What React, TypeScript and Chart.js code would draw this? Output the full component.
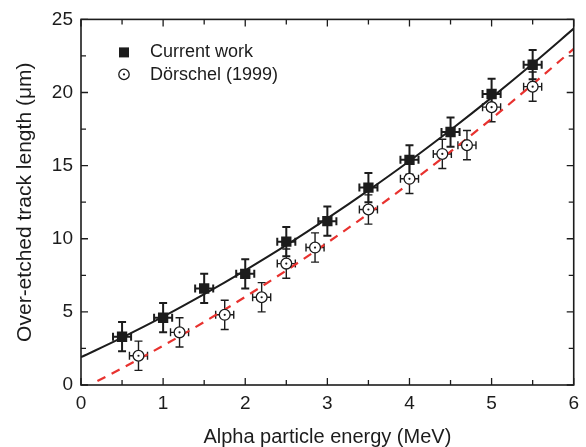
import React, { useEffect, useRef } from "react";
import { Chart, registerables } from "chart.js";
Chart.register(...registerables);

// ---- data ----
const currentX = [0.5, 1.0, 1.5, 2.0, 2.5, 3.0, 3.5, 4.0, 4.5, 5.0, 5.5];
const currentY = [3.3, 4.6, 6.6, 7.6, 9.8, 11.2, 13.5, 15.4, 17.3, 19.9, 21.9];
const currentYErr = [1.0, 1.0, 1.0, 1.0, 1.0, 1.0, 1.0, 1.0, 1.0, 1.05, 1.0];
const currentXErr = [0.11, 0.11, 0.11, 0.11, 0.11, 0.11, 0.11, 0.11, 0.11, 0.11, 0.11];

const dorschelX = [0.7, 1.2, 1.75, 2.2, 2.5, 2.85, 3.5, 4.0, 4.4, 4.7, 5.0, 5.5];
const dorschelY = [2.0, 3.6, 4.8, 6.0, 8.3, 9.4, 12.0, 14.1, 15.8, 16.4, 19.0, 20.4];
const dorschelYErr = [1.0, 1.0, 1.0, 1.0, 1.0, 1.0, 1.0, 1.0, 1.0, 1.0, 1.0, 1.0];
const dorschelXErr = [0.11, 0.11, 0.11, 0.11, 0.11, 0.11, 0.11, 0.11, 0.11, 0.11, 0.11, 0.11];

const fitX = [0, 0.5, 1, 1.5, 2, 2.5, 3, 3.5, 4, 4.5, 5, 5.5, 6];
const fitY = [1.9, 3.24, 4.67, 6.21, 7.84, 9.56, 11.39, 13.31, 15.32, 17.44, 19.65, 21.96, 24.37];

const dashX = [0.2, 0.5, 1, 1.5, 2, 2.5, 3, 3.5, 4, 4.5, 5, 5.5, 6];
const dashY = [0.27, 1.15, 2.69, 4.31, 6.03, 7.83, 9.73, 11.72, 13.79, 15.96, 18.21, 20.56, 22.99];

const xMajorTicks = [0, 1, 2, 3, 4, 5, 6];
const xMinorTicks = [0.5, 1.5, 2.5, 3.5, 4.5, 5.5];
const yMajorTicks = [0, 5, 10, 15, 20, 25];
const yMinorTicks = [2.5, 7.5, 12.5, 17.5, 22.5];

const legendLabels = ["Current work", "Dörschel (1999)"];
const xTitle = "Alpha particle energy (MeV)";
const yTitle = "Over-etched track length (μm)";

const FONT = "'Liberation Sans', Arial, Helvetica, sans-serif";
const INK = "#1c1c1c";
const RED = "#e8322f";

const decorPlugin = {
  id: "decor",
  beforeDatasetsDraw(chart: any) {
    const ctx = chart.ctx;
    const xs = chart.scales.x;
    const ys = chart.scales.y;
    const drawErr = (
      px: number[], py: number[], ex: number[], ey: number[], lw: number
    ) => {
      ctx.save();
      ctx.strokeStyle = INK;
      ctx.lineWidth = lw;
      const cap = 4;
      for (let i = 0; i < px.length; i++) {
        const cx = xs.getPixelForValue(px[i]);
        const cy = ys.getPixelForValue(py[i]);
        const y1 = ys.getPixelForValue(py[i] + ey[i]);
        const y2 = ys.getPixelForValue(py[i] - ey[i]);
        const x1 = xs.getPixelForValue(px[i] - ex[i]);
        const x2 = xs.getPixelForValue(px[i] + ex[i]);
        ctx.beginPath();
        ctx.moveTo(cx, y1); ctx.lineTo(cx, y2);
        ctx.moveTo(cx - cap, y1); ctx.lineTo(cx + cap, y1);
        ctx.moveTo(cx - cap, y2); ctx.lineTo(cx + cap, y2);
        ctx.moveTo(x1, cy); ctx.lineTo(x2, cy);
        ctx.moveTo(x1, cy - cap); ctx.lineTo(x1, cy + cap);
        ctx.moveTo(x2, cy - cap); ctx.lineTo(x2, cy + cap);
        ctx.stroke();
      }
      ctx.restore();
    };
    drawErr(dorschelX, dorschelY, dorschelXErr, dorschelYErr, 1.4);
    drawErr(currentX, currentY, currentXErr, currentYErr, 2);
  },
  afterDatasetsDraw(chart: any) {
    const ctx = chart.ctx;
    const xs = chart.scales.x;
    const ys = chart.scales.y;
    const a = chart.chartArea;
    // centre dots of open circles
    ctx.save();
    ctx.fillStyle = INK;
    for (let i = 0; i < dorschelX.length; i++) {
      ctx.beginPath();
      ctx.arc(xs.getPixelForValue(dorschelX[i]), ys.getPixelForValue(dorschelY[i]), 1.1, 0, Math.PI * 2);
      ctx.fill();
    }
    ctx.restore();

    // frame
    ctx.save();
    ctx.strokeStyle = INK;
    ctx.lineWidth = 1.6;
    ctx.strokeRect(a.left, a.top, a.right - a.left, a.bottom - a.top);
    // inward ticks
    ctx.lineWidth = 1.3;
    ctx.beginPath();
    const tx = (vals: number[], len: number) => {
      vals.forEach((v) => {
        const p = xs.getPixelForValue(v);
        ctx.moveTo(p, a.bottom); ctx.lineTo(p, a.bottom - len);
        ctx.moveTo(p, a.top); ctx.lineTo(p, a.top + len);
      });
    };
    const ty = (vals: number[], len: number) => {
      vals.forEach((v) => {
        const p = ys.getPixelForValue(v);
        ctx.moveTo(a.left, p); ctx.lineTo(a.left + len, p);
        ctx.moveTo(a.right, p); ctx.lineTo(a.right - len, p);
      });
    };
    tx(xMajorTicks, 7); tx(xMinorTicks, 5);
    ty(yMajorTicks, 7); ty(yMinorTicks, 5);
    ctx.stroke();
    ctx.restore();

    // legend
    ctx.save();
    const lx = a.left + 43;
    const ly1 = a.top + 33;
    const ly2 = a.top + 55;
    ctx.fillStyle = INK;
    ctx.fillRect(lx - 5, ly1 - 5, 10, 10);
    ctx.beginPath();
    ctx.arc(lx, ly2, 5.2, 0, Math.PI * 2);
    ctx.fillStyle = "#fff";
    ctx.fill();
    ctx.lineWidth = 1.3;
    ctx.strokeStyle = INK;
    ctx.stroke();
    ctx.beginPath();
    ctx.arc(lx, ly2, 1.1, 0, Math.PI * 2);
    ctx.fillStyle = INK;
    ctx.fill();
    ctx.font = `18px ${FONT}`;
    ctx.textBaseline = "middle";
    ctx.textAlign = "left";
    ctx.fillText(legendLabels[0], lx + 26, ly1);
    ctx.fillText(legendLabels[1], lx + 26, ly2 + 1);
    ctx.restore();
  },
};

export default function App() {
  const ref = useRef<HTMLCanvasElement | null>(null);
  useEffect(() => {
    if (!ref.current) return;
    const chart = new Chart(ref.current, {
      type: "scatter",
      data: {
        datasets: [
          {
            label: legendLabels[0],
            data: currentX.map((x, i) => ({ x, y: currentY[i] })),
            pointStyle: "rect",
            pointRadius: 7.3,
            backgroundColor: INK,
            borderColor: INK,
            borderWidth: 0,
            order: 0,
          },
          {
            label: legendLabels[1],
            data: dorschelX.map((x, i) => ({ x, y: dorschelY[i] })),
            pointStyle: "circle",
            pointRadius: 5.4,
            backgroundColor: "#ffffff",
            borderColor: INK,
            borderWidth: 1.3,
            order: 1,
          },
          {
            label: "fit current",
            data: fitX.map((x, i) => ({ x, y: fitY[i] })),
            showLine: true,
            pointRadius: 0,
            borderColor: INK,
            borderWidth: 2,
            cubicInterpolationMode: "monotone",
            order: 3,
          },
          {
            label: "fit Dörschel",
            data: dashX.map((x, i) => ({ x, y: dashY[i] })),
            showLine: true,
            pointRadius: 0,
            borderColor: RED,
            borderWidth: 2.2,
            borderDash: [9, 7],
            cubicInterpolationMode: "monotone",
            order: 2,
          },
        ],
      } as any,
      options: {
        animation: false,
        responsive: false,
        layout: { padding: { top: 16, right: 8, left: 0, bottom: 0 } },
        plugins: { legend: { display: false }, tooltip: { enabled: false } },
        scales: {
          x: {
            type: "linear",
            min: 0,
            max: 6,
            grid: { display: false, drawTicks: false },
            border: { display: false },
            ticks: {
              stepSize: 1,
              padding: 7,
              color: INK,
              font: { size: 19, family: FONT },
              maxRotation: 0,
            },
            title: {
              display: true,
              text: xTitle,
              color: INK,
              font: { size: 20, family: FONT },
              padding: { top: 0, bottom: -2 },
            },
            afterFit: (s: any) => { s.height = 62; },
          },
          y: {
            type: "linear",
            min: 0,
            max: 25,
            grid: { display: false, drawTicks: false },
            border: { display: false },
            ticks: {
              stepSize: 5,
              padding: 8,
              color: INK,
              font: { size: 19, family: FONT },
            },
            title: {
              display: true,
              text: yTitle,
              color: INK,
              font: { size: 21, family: FONT },
              padding: { top: 13, bottom: 0 },
            },
            afterFit: (s: any) => { s.width = 81; },
          },
        },
      } as any,
      plugins: [decorPlugin],
    });
    return () => chart.destroy();
  }, []);
  return (
    <div style={{ position: "absolute", left: 0, top: 0, width: 586, height: 447, background: "#fff" }}>
      <canvas ref={ref} width={586} height={447} style={{ width: 586, height: 447, display: "block" }} />
    </div>
  );
}
